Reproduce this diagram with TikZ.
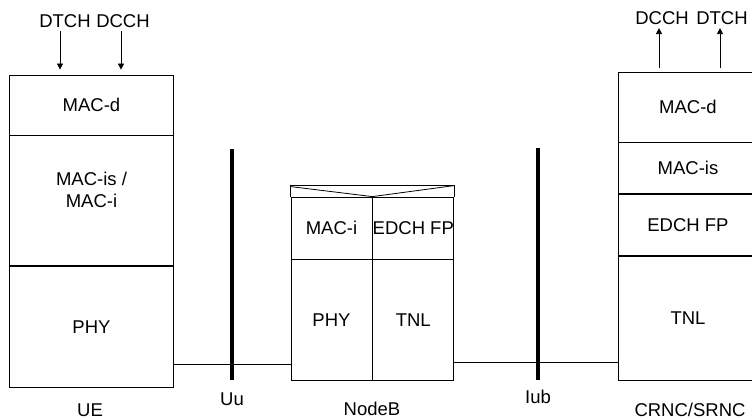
\documentclass[tikz,border=0pt]{standalone}
\usepackage{fontspec}
\setmainfont{Liberation Sans}
\usetikzlibrary{arrows.meta, positioning}

\newcommand{\stackfont}{\fontsize{18.5}{22}\selectfont}
\tikzset{
  layer/.style={draw, inner sep=0pt, line width=0.8pt},
  chan/.style={-{Triangle[width=6pt,length=6pt]}, line width=0.8pt},
  iface/.style={line width=4pt},
  link/.style={line width=0.8pt},
}

\begin{document}
\begin{tikzpicture}[x=1pt, y=-1pt, font=\stackfont]
\useasboundingbox (0,0) rectangle (752,419);
% UE stack
\node[layer, minimum width=164pt, minimum height=60pt] (ueMacd) at (91.5,105) {MAC-d};
\node[layer, minimum width=164pt, minimum height=130pt, below=0pt of ueMacd,
      label={[yshift=11pt, align=center]center:MAC-is /\\MAC-i}] (ueMaci) {};
\node[layer, minimum width=164pt, minimum height=121pt, below=0pt of ueMaci] (uePhy) {PHY};
\node (ueDtch) at (65,21) {DTCH};
\node (ueDcch) at (123,21) {DCCH};
\draw[chan, shorten >=5pt] ([xshift=-5pt]ueDtch.south) -- ([xshift=-5pt]ueDtch.south |- ueMacd.north);
\draw[chan, shorten >=5pt] ([xshift=-2pt]ueDcch.south) -- ([xshift=-2pt]ueDcch.south |- ueMacd.north);
\node (ue) at (90,410) {UE};
% Uu
\coordinate (uuTop) at (232,149);
\coordinate (uuBot) at (232,380);
\draw[iface] (uuTop) -- (uuBot);
\node (uu) at (232,399) {Uu};
% NodeB
\node[layer, minimum width=81pt, minimum height=62pt] (nbMaci) at (331.5,228) {MAC-i};
\node[layer, minimum width=81pt, minimum height=62pt, right=0pt of nbMaci,
      label={center:EDCH FP}] (nbFp) {};
\node[layer, minimum width=81pt, minimum height=121pt, below=0pt of nbMaci] (nbPhy) {PHY};
\node[layer, minimum width=81pt, minimum height=121pt, below=0pt of nbFp] (nbTnl) {TNL};
\draw[link] (nbMaci.north west) -- ([yshift=11pt]nbMaci.north west) -- ([yshift=11pt]nbFp.north east) -- (nbFp.north east);
\draw[link] ([yshift=10pt]nbMaci.north west) -- (nbMaci.north east) -- ([yshift=11pt]nbFp.north east);
\node (nodeb) at (372,409) {NodeB};
% Iub
\coordinate (iubTop) at (538,148);
\coordinate (iubBot) at (538,380);
\draw[iface] (iubTop) -- (iubBot);
\node (iub) at (538,397) {Iub};
% CRNC/SRNC stack
\node[layer, minimum width=140pt, minimum height=70pt] (rncMacd) at (688,107) {MAC-d};
\node[layer, minimum width=140pt, minimum height=51pt, below=0pt of rncMacd] (rncMacis) {MAC-is};
\node[layer, minimum width=140pt, minimum height=61pt, below=0pt of rncMacis] (rncFp) {EDCH FP};
\node[layer, minimum width=140pt, minimum height=124pt, below=0pt of rncFp] (rncTnl) {TNL};
\node (rncDcch) at (662,18) {DCCH};
\node (rncDtch) at (722,18) {DTCH};
\draw[chan, shorten <=4pt] ([xshift=-3pt]rncDcch.south |- rncMacd.north) -- ([xshift=-3pt]rncDcch.south);
\draw[chan, shorten <=4pt] ([xshift=-2pt]rncDtch.south |- rncMacd.north) -- ([xshift=-2pt]rncDtch.south);
\node (rnc) at (690,410) {CRNC/SRNC};
% transport links
\draw[link] ([yshift=-37.5pt]uePhy.east) -- ([yshift=-37.5pt]uePhy.east -| nbPhy.west);
\draw[link] ([yshift=-42.5pt]nbTnl.east) -- ([yshift=-42.5pt]nbTnl.east -| rncTnl.west);
\end{tikzpicture}
\end{document}
